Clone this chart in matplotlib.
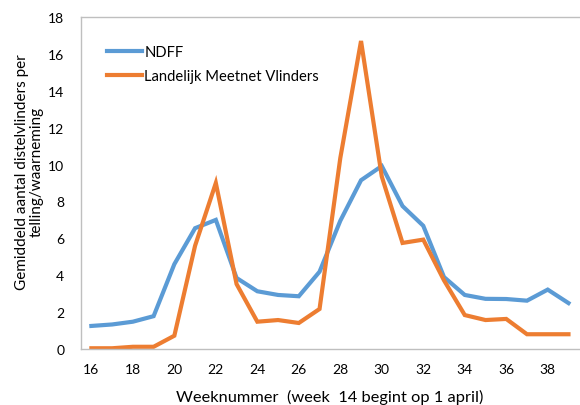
import matplotlib
matplotlib.use("Agg")
import matplotlib.pyplot as plt

weeks = list(range(16, 40))
ndff = [1.25, 1.33, 1.48, 1.78, 4.6, 6.55, 7.0, 3.85, 3.13, 2.93, 2.86, 4.19,
        6.95, 9.15, 9.92, 7.75, 6.68, 3.9, 2.93, 2.72, 2.71, 2.62, 3.22, 2.49]
meetnet = [0.04, 0.04, 0.12, 0.12, 0.72, 5.6, 9.0, 3.52, 1.48, 1.57, 1.41, 2.17,
           10.35, 16.7, 9.35, 5.75, 5.93, 3.72, 1.84, 1.57, 1.63, 0.8, 0.8, 0.8]
xticks = list(range(16, 39, 2))
yticks = list(range(0, 19, 2))

plt.rcParams['font.family'] = ['Lato', 'DejaVu Sans']

fig = plt.figure(figsize=(5.8, 4.06), dpi=100)
ax = fig.add_axes([81/580, 56/406, 1 - 81/580 - 0.002, (350-18)/406])

ax.plot(weeks, ndff, color='#5B9BD5', lw=3, label='NDFF', solid_joinstyle='miter')
ax.plot(weeks, meetnet, color='#ED7D31', lw=3, label='Landelijk Meetnet Vlinders', solid_joinstyle='miter')

ax.set_xlim(15.5, 39.5)
ax.set_ylim(0, 18)
ax.set_xticks(xticks)
ax.set_yticks(yticks)
ax.tick_params(length=0, labelsize=10, colors='#000000', pad=10)
ax.tick_params(axis='y', pad=12)
for s in ['left', 'top', 'bottom', 'right']:
    ax.spines[s].set_color('#BFBFBF')
    ax.spines[s].set_linewidth(1)
ax.spines['right'].set_visible(False)

ax.set_xlabel('Weeknummer  (week  14 begint op 1 april)', fontsize=11.8, labelpad=10)
ax.set_ylabel('Gemiddeld aantal distelvlinders per\ntelling/waarneming', fontsize=11,
              linespacing=1.15)
ax.yaxis.set_label_coords(-0.074, 0.535)

leg = ax.legend(loc='upper left', bbox_to_anchor=(0.025, 0.955), frameon=False,
                fontsize=10.6, handlelength=2.4, handletextpad=0.15, labelspacing=0.65)

fig.savefig('out.png', dpi=100)
